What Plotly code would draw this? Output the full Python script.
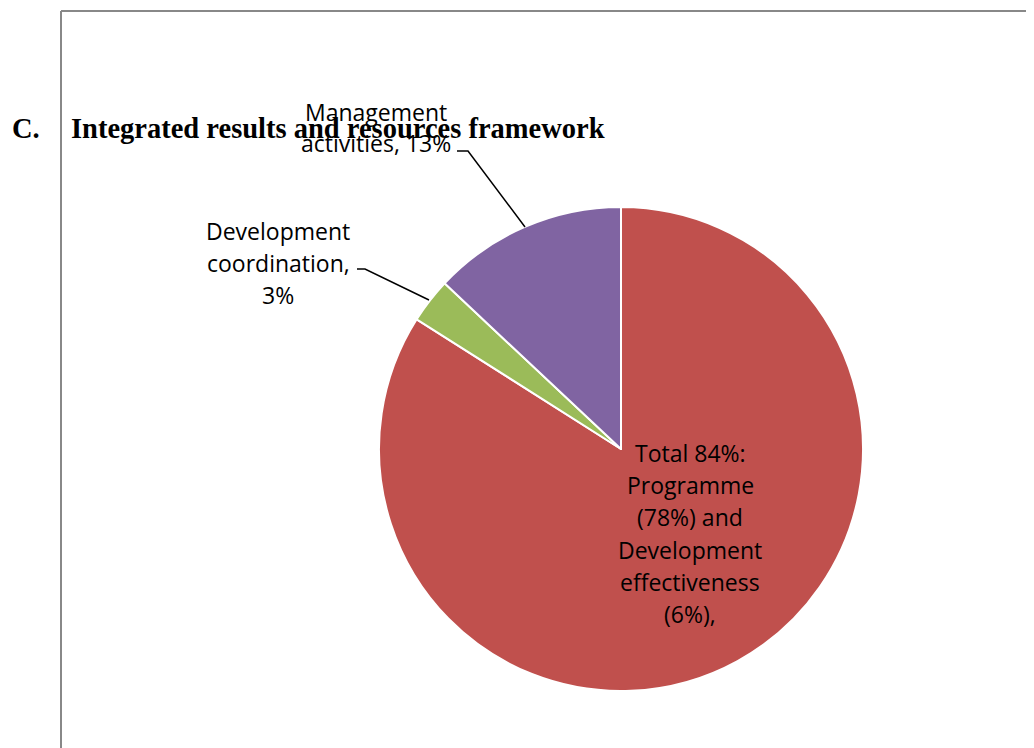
import plotly.graph_objects as go

# ---- data ----
categories = ["Programme and development effectiveness", "Development coordination", "Management activities"]
shares = [84, 3, 13]
colors = ["#C0504D", "#9BBB59", "#8064A2"]

label_main = ["Total 84%:", "Programme", "(78%) and", "Development", "effectiveness", "(6%),"]
label_dev = ["Development", "coordination,", "3%"]
label_mgmt = ["Management", "activities, 13%"]
heading_num = "C."
heading_text = "Integrated results and resources framework"

# page body has an 8px margin; figure fills the rest of the 1034x748 window
OFF = 8
W, H = 1034 - OFF, 748 - OFF


def px(x):
    return (x - OFF) / W


def py(y):
    return 1 - (y - OFF) / H


fig = go.Figure()
fig.add_trace(go.Pie(
    labels=categories,
    values=shares,
    marker=dict(colors=colors, line=dict(color="white", width=2)),
    sort=False,
    direction="clockwise",
    rotation=0,
    textinfo="none",
    hoverinfo="label+percent",
    showlegend=False,
    domain=dict(x=[px(379), px(863)], y=[py(691), py(207)]),
))

font_lbl = dict(family="Open Sans, Noto Sans, sans-serif", size=23, color="black")
annotations = []


def add_lines(lines, cx, y0, step):
    for i, t in enumerate(lines):
        annotations.append(dict(
            x=px(cx), y=py(y0 + i * step), xref="paper", yref="paper",
            text=t, showarrow=False, xanchor="center", yanchor="middle",
            font=font_lbl,
        ))


add_lines(label_main, 690, 453, 32.2)
add_lines(label_dev, 278, 231, 32)
add_lines(label_mgmt, 376, 112, 31)

font_head = dict(family="Liberation Serif, Times New Roman, serif", size=28.5, color="black")
annotations.append(dict(x=px(10), y=py(128), xref="paper", yref="paper", text="<b>" + heading_num + "</b>",
                        showarrow=False, xanchor="left", yanchor="middle", font=font_head))
annotations.append(dict(x=px(69), y=py(128), xref="paper", yref="paper", text="<b>" + heading_text + "</b>",
                        showarrow=False, xanchor="left", yanchor="middle", font=font_head))


def path(points):
    return "M " + " L ".join(f"{px(a)},{py(b)}" for a, b in points)


shapes = [
    # frame
    dict(type="line", xref="paper", yref="paper", x0=px(61), x1=px(1040), y0=py(11), y1=py(11),
         line=dict(color="#888888", width=2)),
    dict(type="line", xref="paper", yref="paper", x0=px(61), x1=px(61), y0=py(11), y1=py(760),
         line=dict(color="#888888", width=2)),
    # leader lines
    dict(type="path", xref="paper", yref="paper", path=path([(457, 151), (468, 151), (525, 227)]),
         line=dict(color="black", width=1.5)),
    dict(type="path", xref="paper", yref="paper", path=path([(357, 269), (365, 269), (429, 300)]),
         line=dict(color="black", width=1.5)),
]

fig.update_layout(
    width=W, height=H,
    margin=dict(l=0, r=0, t=0, b=0),
    paper_bgcolor="white",
    plot_bgcolor="white",
    annotations=annotations,
    shapes=shapes,
)

fig.write_html("out.html")
